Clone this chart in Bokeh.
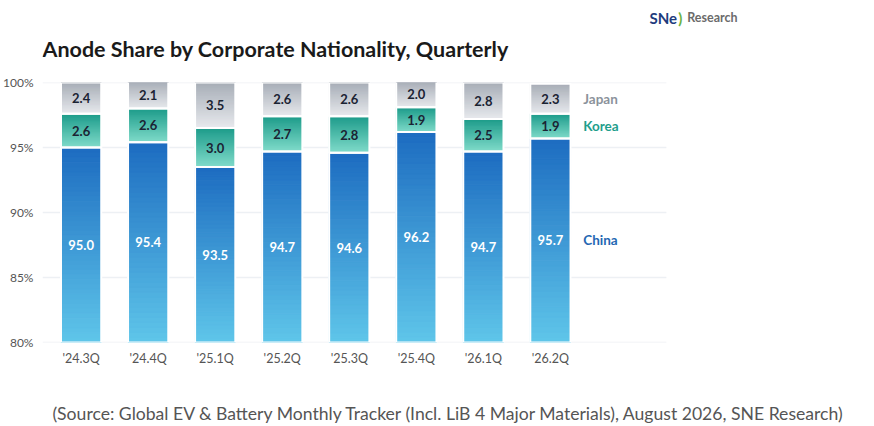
import numpy as np
from bokeh.plotting import figure
from bokeh.models import Range1d, FixedTicker
from bokeh.layouts import column
from bokeh.embed import file_html
from bokeh.resources import INLINE
from bokeh.core.properties import value

# ---------------- data ----------------
quarters = ["'24.3Q", "'24.4Q", "'25.1Q", "'25.2Q", "'25.3Q", "'25.4Q", "'26.1Q", "'26.2Q"]
china = [95.0, 95.4, 93.5, 94.7, 94.6, 96.2, 94.7, 95.7]
korea = [2.6, 2.6, 3.0, 2.7, 2.8, 1.9, 2.5, 1.9]
japan = [2.4, 2.1, 3.5, 2.6, 2.6, 2.0, 2.8, 2.3]
series_names = ["China", "Korea", "Japan"]
y_ticks = [80, 85, 90, 95, 100]
title_text = "Anode Share by Corporate Nationality, Quarterly"
source_text = "(Source: Global EV & Battery Monthly Tracker (Incl. LiB 4 Major Materials), August 2026, SNE Research)"
logo_parts = ["SNe", ")", "Research"]

# ---------------- style ----------------
W = 858
LEFT = 34
TOP_H, MAIN_H, BOT_H = 72, 300, 52
FONT = "Lato"
PX_PER_CAT = 67.7
X0 = -0.576
grad = {  # (bottom colour, top colour)
    "China": ("#5fc6ea", "#1d6cc0"),
    "Korea": ("#82dccb", "#1e9c8b"),
    "Japan": ("#e8eaee", "#a8aeb7"),
}
name_color = {"China": "#2467b2", "Korea": "#1f9e8c", "Japan": "#8b929b"}
val_color = {"China": "white", "Korea": "#1b2333", "Japan": "#1b2333"}


def blank(h):
    f = figure(width=W, height=h, output_backend="svg", toolbar_location=None,
               x_range=Range1d(LEFT, W), y_range=Range1d(h, 0),
               x_axis_type=None, y_axis_type=None,
               min_border_left=LEFT, min_border_right=0,
               min_border_top=0, min_border_bottom=0)
    f.outline_line_color = None
    f.xgrid.grid_line_color = None
    f.ygrid.grid_line_color = None
    return f


# ---------------- header (logo + title) ----------------
top = blank(TOP_H)
top.text(x=[34], y=[48], text=[title_text], text_font=value(FONT), text_font_style="bold",
         text_font_size="21.5px", text_color="#1a1a1a", text_baseline="middle")
top.text(x=[647, 676, 685], y=[17, 17, 17], text=logo_parts,
         text_color=["#1e3c7d", "#6cb33f", "#6b6b6b"], text_font=value(FONT),
         text_font_style="bold", text_font_size=["15px", "15px", "12.5px"], text_baseline="middle")

# ---------------- main chart ----------------
n = len(quarters)
x_end = X0 + (W - LEFT) / PX_PER_CAT
grid_end = n - 1 + 1.73
p = figure(width=W, height=MAIN_H, output_backend="svg", toolbar_location=None,
           x_range=Range1d(X0, x_end), y_range=Range1d(80, 100),
           min_border_left=LEFT, min_border_right=0, min_border_top=10, min_border_bottom=30)
p.outline_line_color = None
p.xgrid.grid_line_color = None
p.ygrid.grid_line_color = None
p.segment(x0=[X0] * len(y_ticks), x1=[grid_end] * len(y_ticks), y0=y_ticks, y1=y_ticks,
          line_color="#edf0f4", line_width=1.5)

p.xaxis.ticker = FixedTicker(ticks=list(range(n)))
p.xaxis.major_label_overrides = {i: q for i, q in enumerate(quarters)}
p.yaxis.ticker = FixedTicker(ticks=y_ticks)
p.yaxis.major_label_overrides = {t: f"{t}%" for t in y_ticks}
for ax in (p.xaxis, p.yaxis):
    ax.axis_line_color = None
    ax.major_tick_line_color = None
    ax.minor_tick_line_color = None
    ax.major_tick_out = 0
    ax.major_tick_in = 0
    ax.major_label_text_font = FONT
    ax.major_label_text_color = "#555555"
p.xaxis.major_label_text_font_size = "12.5px"
p.xaxis.major_label_standoff = 8
p.yaxis.major_label_text_font_size = "12px"
p.yaxis.major_label_standoff = 9


def mix(c1, c2, t):
    a = np.array([int(c1[i:i + 2], 16) for i in (1, 3, 5)], float)
    b = np.array([int(c2[i:i + 2], 16) for i in (1, 3, 5)], float)
    c = a + (b - a) * t
    return "#%02x%02x%02x" % tuple(int(round(v)) for v in c)


hw = 0.30
N = 40
L, R, B, T, C = [], [], [], [], []
oL, oR, oB, oT = [], [], [], []
tx, ty, tt, tc = [], [], [], []
for i in range(n):
    vals = [china[i], korea[i], japan[i]]
    seg_top = 80.0
    for s, name in enumerate(series_names):
        bottom = 80.0 if s == 0 else seg_top
        seg_top = (vals[0] if s == 0 else bottom + vals[s])
        bc, tcol = grad[name]
        for k in range(N):
            L.append(i - hw); R.append(i + hw)
            B.append(bottom + (seg_top - bottom) * k / N)
            T.append(bottom + (seg_top - bottom) * (k + 1) / N)
            C.append(mix(bc, tcol, (k + 0.5) / N))
        oL.append(i - hw); oR.append(i + hw); oB.append(bottom); oT.append(seg_top)
        tx.append(i); ty.append((bottom + seg_top) / 2); tt.append(f"{vals[s]:.1f}"); tc.append(val_color[name])

p.quad(left=L, right=R, bottom=B, top=T, fill_color=C, line_color=C, line_width=1)
p.quad(left=oL, right=oR, bottom=oB, top=oT, fill_alpha=0, line_color="white", line_width=2)
p.text(x=tx, y=ty, text=tt, text_color=tc, text_font=value(FONT), text_font_style="bold",
       text_font_size="13px", text_align="center", text_baseline="middle")

# series names beside last bar
last = n - 1
mids = [(80 + china[last]) / 2,
        china[last] + korea[last] / 2,
        china[last] + korea[last] + japan[last] / 2]
p.text(x=[last + 0.49] * 3, y=mids, text=series_names,
       text_color=[name_color[s] for s in series_names], text_font=value(FONT),
       text_font_style="bold", text_font_size="13.5px", text_align="left", text_baseline="middle")

# ---------------- footer (source) ----------------
bot = blank(BOT_H)
bot.text(x=[44], y=[41], text=[source_text], text_font=value(FONT), text_font_size="17.6px",
         text_color="#555555", text_baseline="middle")

layout = column(top, p, bot, spacing=0)
open("out.html", "w").write(file_html(layout, INLINE))
